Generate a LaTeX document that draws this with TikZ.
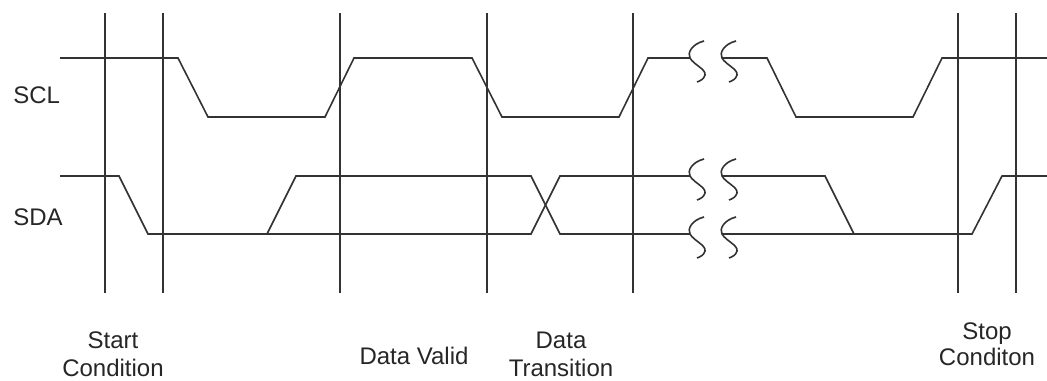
\documentclass[tikz,border=0pt]{standalone}
\usepackage{fontspec}
\setmainfont{Liberation Sans}
\usepackage{tikz}
\definecolor{ink}{HTML}{333333}
\tikzstyle{wave}=[draw=ink,line width=0.8pt,line join=miter]
\tikzstyle{marker}=[draw=ink,line width=0.8pt]
\tikzstyle{lbl}=[inner sep=0pt,text=black!85,align=center,
                 font=\fontsize{12}{14}\selectfont]

\begin{document}
\begin{tikzpicture}[x=0.5pt,y=-0.5pt]
    \useasboundingbox (0,0) rectangle (1047,380);
    % break symbol, hooked on a point of the line
    \newcommand{\brk}[2]{\draw[wave,shift={(#1,#2)}]
      (14,-17) .. controls (2,-14) and (-3,-5) .. (0,0)
      .. controls (4,7) and (16,11) .. (15,17)
      .. controls (14,21) and (10,23) .. (7,24);}
    % time markers
    \foreach \x in {105,163,340,487,633,958,1016}
      \draw[marker] (\x,13) -- (\x,293);
    % SCL
    \draw[wave] (60,58) -- (178,58) -- (208,117) -- (325,117) -- (354,58)
      -- (472,58) -- (502,117) -- (619,117) -- (648,58) -- (690,58);
    \draw[wave] (722,58) -- (767,58) -- (796,117) -- (913,117) -- (942,58)
      -- (1047,58);
    % SDA
    \draw[wave] (60,176) -- (119,176) -- (148,234) -- (531,234) -- (560,176)
      -- (690,176);
    \draw[wave] (267,234) -- (296,176) -- (531,176) -- (560,234) -- (690,234);
    \draw[wave] (722,176) -- (825,176) -- (854,234);
    \draw[wave] (722,234) -- (972,234) -- (1002,176) -- (1047,176);
    % breaks
    \foreach \y in {58,176,234} {
      \brk{690}{\y}
      \brk{722}{\y}
    }
    % labels (base = last line)
    \node[lbl,anchor=base west] (scl) at (13,103) {SCL};
    \node[lbl,anchor=base west] (sda) at (13,225) {SDA};
    \node[lbl,anchor=base] (start) at (113,376) {Start\\Condition};
    \node[lbl,anchor=base] (valid) at (414,364) {Data Valid};
    \node[lbl,anchor=base] (trans) at (561,376) {Data\\Transition};
    \node[lbl,anchor=base,font=\fontsize{12}{13}\selectfont] (stop)
      at (987,365) {Stop\\Conditon};
\end{tikzpicture}
\end{document}
